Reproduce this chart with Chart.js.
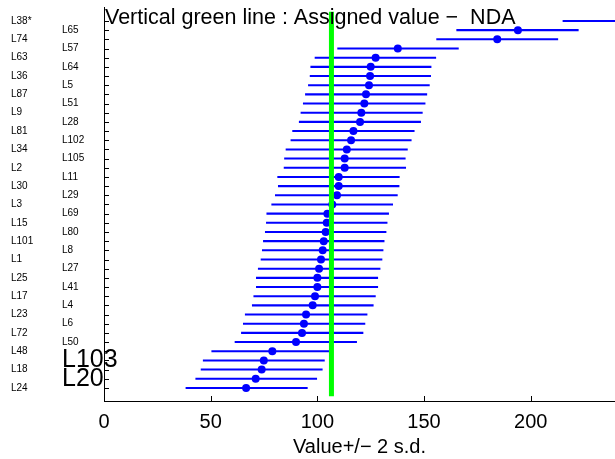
<!DOCTYPE html>
<html>
<head>
<meta charset="utf-8">
<title>Assigned value - NDA</title>
<script src="https://cdn.jsdelivr.net/npm/chart.js@4/dist/chart.umd.min.js"></script>
<style>
  body { margin: 0; background: #fff; }
  canvas { display: block; }
</style>
</head>
<body>
<canvas id="chart" width="615" height="459"></canvas>
<script>
// Labs, from the top row down
const labs = [
  "L38*", "L65", "L74", "L57", "L63", "L64", "L36", "L5", "L87", "L51",
  "L9", "L28", "L81", "L102", "L34", "L105", "L2", "L11", "L30", "L29",
  "L3", "L69", "L15", "L80", "L101", "L8", "L1", "L27", "L25", "L41",
  "L17", "L4", "L23", "L6", "L72", "L50", "L48", "L103", "L18", "L20", "L24"
];

// Reported value
const values = [
  243.3, 194.0, 184.3, 137.7, 127.3, 125.0, 124.7, 124.2, 122.8, 122.0,
  120.6, 120.0, 116.9, 115.8, 113.8, 112.8, 112.8, 110.0, 110.0, 109.2,
  107.0, 104.7, 104.4, 103.9, 103.0, 102.5, 101.7, 100.8, 100.0, 100.0,
  98.9, 97.8, 94.7, 93.7, 92.8, 90.0, 78.9, 74.9, 73.9, 71.1, 66.6
];

// Value - 2 s.d.
const lower = [
  215.1, 165.3, 155.9, 109.5, 98.9, 96.9, 96.6, 95.8, 94.4, 93.4,
  92.3, 91.5, 88.4, 87.6, 85.3, 84.6, 84.4, 81.4, 81.7, 80.3,
  78.6, 76.3, 76.1, 75.6, 74.7, 74.2, 73.6, 72.3, 71.4, 71.4,
  70.2, 69.5, 66.2, 65.3, 64.4, 61.4, 50.5, 46.5, 45.5, 43.0, 38.4
];

// Value + 2 s.d.
const upper = [
  271.5, 222.3, 212.7, 166.1, 155.5, 153.3, 153.1, 152.5, 151.3, 150.5,
  149.2, 148.4, 145.4, 144.0, 142.2, 141.2, 141.4, 138.4, 138.3, 137.5,
  135.3, 133.4, 132.7, 132.2, 131.3, 130.8, 130.3, 129.4, 128.3, 128.3,
  127.2, 126.2, 123.3, 122.3, 121.4, 118.4, 105.6, 103.3, 102.3, 99.7, 95.3
];

const assignedValue = 106.6;
const xTicks = [0, 50, 100, 150, 200];
const xMax = 239.5;
const yMax = 41.9;

const noteText = "Vertical green line : Assigned value \u2212  NDA";
const bigLabs = ["L103", "L20"];   // these two print larger in the original
const family = '"Liberation Sans", Arial, Helvetica, sans-serif';
const tickLen = 5;

const rows = labs.map((_, i) => i + 1);

function labelFont(ctx) {
  const lab = ctx.tick ? labs[ctx.tick.value - 1] : null;
  return { family: family, size: bigLabs.includes(lab) ? 25 : 10 };
}

function rowTicks(scale) {
  scale.ticks = rows.map(v => ({ value: v }));
}

// tick marks point into the plot, so draw them from the scales here
const inwardTicks = {
  id: "inwardTicks",
  beforeDatasetsDraw(chart) {
    const { ctx, chartArea, scales } = chart;
    ctx.save();
    ctx.strokeStyle = "#000";
    ctx.lineWidth = 1;
    ctx.beginPath();
    scales.y.ticks.forEach(t => {
      const py = Math.round(scales.y.getPixelForValue(t.value)) + 0.5;
      ctx.moveTo(chartArea.left, py);
      ctx.lineTo(chartArea.left + tickLen, py);
    });
    scales.x.ticks.forEach(t => {
      const px = Math.round(scales.x.getPixelForValue(t.value)) + 0.5;
      ctx.moveTo(px, chartArea.bottom);
      ctx.lineTo(px, chartArea.bottom - tickLen);
    });
    ctx.stroke();
    ctx.restore();
  }
};

// text across the top of the plot
const noteLabel = {
  id: "noteLabel",
  afterDraw(chart) {
    const ctx = chart.ctx;
    ctx.save();
    ctx.font = "21.5px " + family;
    ctx.fillStyle = "#000";
    ctx.textBaseline = "alphabetic";
    ctx.fillText(noteText, chart.chartArea.left + 1, chart.chartArea.top + 16.5);
    ctx.restore();
  }
};

new Chart(document.getElementById("chart"), {
  type: "bar",
  data: {
    datasets: [
      {
        type: "line",
        data: [{ x: assignedValue, y: 0 }, { x: assignedValue, y: yMax }],
        borderColor: "#00ff00",
        borderWidth: 5,
        pointRadius: 0,
        order: 0
      },
      {
        type: "scatter",
        data: rows.map((r, i) => ({ x: values[i], y: r })),
        backgroundColor: "#0000ff",
        borderWidth: 0,
        pointRadius: 4,
        order: 1
      },
      {
        type: "bar",
        data: rows.map((r, i) => ({ x: [lower[i], upper[i]], y: r })),
        backgroundColor: "#0000ff",
        barThickness: 1.4,
        order: 2
      }
    ]
  },
  options: {
    indexAxis: "y",
    responsive: false,
    animation: false,
    layout: { autoPadding: false, padding: { left: 11, top: 7, right: 0, bottom: 0 } },
    plugins: {
      legend: { display: false },
      tooltip: { enabled: false }
    },
    scales: {
      x: {
        type: "linear",
        position: "bottom",
        min: 0,
        max: xMax,
        afterBuildTicks: s => { s.ticks = xTicks.map(v => ({ value: v })); },
        afterFit: s => { s.height = 58; },
        border: { display: true, color: "#000", width: 1 },
        grid: { display: false, drawTicks: false },
        ticks: {
          autoSkip: false,
          maxRotation: 0,
          padding: 9,
          color: "#000",
          font: { family: family, size: 20 }
        },
        title: {
          display: true,
          text: "Value+/\u2212 2 s.d.",
          color: "#000",
          font: { family: family, size: 20 },
          padding: { top: 0, bottom: 0 }
        }
      },
      y: {
        type: "linear",
        position: "left",
        weight: 0,
        reverse: true,
        min: 0,
        max: yMax,
        afterBuildTicks: rowTicks,
        afterFit: s => {
          s.width = 42;
          // let the two big labels run over the axis line as in the original
          s._computeLabelArea = () => null;
        },
        border: { display: true, color: "#000", width: 1 },
        grid: { display: false, drawTicks: false },
        ticks: {
          autoSkip: false,
          crossAlign: "far",
          padding: 0,
          color: "#000",
          font: labelFont,
          callback: v => (v % 2 === 0 ? labs[v - 1] : "")
        }
      },
      y2: {
        type: "linear",
        position: "left",
        weight: 1,
        reverse: true,
        min: 0,
        max: yMax,
        afterBuildTicks: rowTicks,
        afterFit: s => { s.width = 51; },
        border: { display: false },
        grid: { display: false, drawTicks: false },
        ticks: {
          autoSkip: false,
          crossAlign: "far",
          padding: 0,
          color: "#000",
          font: labelFont,
          callback: v => (v % 2 === 1 ? labs[v - 1] : "")
        }
      }
    }
  },
  plugins: [inwardTicks, noteLabel]
});
</script>
</body>
</html>
